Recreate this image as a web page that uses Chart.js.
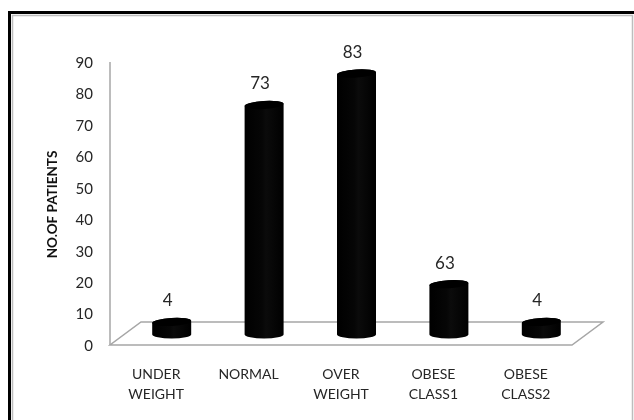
<!DOCTYPE html>
<html><head><meta charset="utf-8">
<script src="https://cdn.jsdelivr.net/npm/chart.js@4.4.1/dist/chart.umd.min.js"></script>
<style>html,body{margin:0;padding:0;background:#fff;}canvas{display:block}</style>
</head><body>
<canvas id="c" width="634" height="420"></canvas>
<script>
const categories = [['UNDER', 'WEIGHT'], ['NORMAL'], ['OVER', 'WEIGHT'], ['OBESE', 'CLASS1'], ['OBESE', 'CLASS2']];
const barValues = [4, 73, 83, 16, 4];
const dataLabels = ['4', '73', '83', '63', '4'];
const yMin = 0;
const yMax = 90;
const yStep = 10;
const yTitle = 'NO.OF PATIENTS';

const DX = 31, DY = -23;
const FONT = 'Lato, "Open Sans", sans-serif';

const deco = {
  id: 'deco',
  beforeDraw(chart) {
    const ctx = chart.ctx;
    ctx.save();
    ctx.fillStyle = '#fff';
    ctx.fillRect(0, 0, chart.width, chart.height);
    // frame
    ctx.strokeStyle = '#bdbdbd';
    ctx.lineWidth = 1.5;
    ctx.beginPath();
    ctx.moveTo(12.5, 430); ctx.lineTo(12.5, 15.5); ctx.lineTo(632.5, 15.5); ctx.lineTo(632.5, 430);
    ctx.stroke();
    ctx.fillStyle = '#000';
    ctx.fillRect(8, 11, 626, 3);
    ctx.fillRect(8, 11, 3, 409);
    // axes / floor
    const a = chart.chartArea;
    const ys = chart.scales.y;
    const y0 = ys.getPixelForValue(yMin) - 1;
    ctx.strokeStyle = '#a6a6a6';
    ctx.lineWidth = 1.5;
    ctx.beginPath();
    ctx.moveTo(a.left, ys.getPixelForValue(yMax) - 1);
    ctx.lineTo(a.left, y0);
    ctx.stroke();
    ctx.beginPath();
    ctx.moveTo(a.left, y0);
    ctx.lineTo(a.right, y0);
    ctx.lineTo(a.right + DX, y0 + DY);
    ctx.lineTo(a.left + DX, y0 + DY);
    ctx.closePath();
    ctx.stroke();
    ctx.restore();
  },
  afterDatasetsDraw(chart) {
    const ctx = chart.ctx;
    const meta = chart.getDatasetMeta(0);
    ctx.save();
    meta.data.forEach((el, i) => {
      const cx = el.x + DX / 2;
      const top = el.y + DY / 2;
      const base = el.base + DY / 2;
      const hw = el.width / 2;
      const ry = 4;
      const g = ctx.createLinearGradient(cx - hw, 0, cx + hw, 0);
      g.addColorStop(0, '#000');
      g.addColorStop(0.45, '#060606');
      g.addColorStop(0.55, '#0b0b0b');
      g.addColorStop(1, '#000');
      ctx.fillStyle = g;
      ctx.beginPath();
      ctx.moveTo(cx - hw, top);
      ctx.lineTo(cx - hw, base);
      ctx.ellipse(cx, base, hw, ry, 0, Math.PI, 0, true);
      ctx.lineTo(cx + hw, top);
      ctx.ellipse(cx, top, hw, ry, -0.06, 0, Math.PI, true);
      ctx.closePath();
      ctx.fill();
      ctx.fillStyle = '#000';
      ctx.beginPath();
      ctx.ellipse(cx, top, hw, ry, -0.06, 0, Math.PI * 2);
      ctx.fill();
      ctx.fillStyle = '#262626';
      ctx.font = '17px ' + FONT;
      ctx.textAlign = 'center';
      ctx.textBaseline = 'middle';
      ctx.fillText(dataLabels[i], cx - 4, top - 21);
    });
    ctx.restore();
  }
};

new Chart(document.getElementById('c'), {
  type: 'bar',
  data: {
    labels: categories,
    datasets: [{
      data: barValues,
      backgroundColor: 'rgba(0,0,0,0)',
      borderWidth: 0,
      categoryPercentage: 1,
      barPercentage: 0.422
    }]
  },
  options: {
    responsive: false,
    animation: false,
    devicePixelRatio: 1,
    layout: { padding: { left: 45, top: 63, right: 62, bottom: 0 } },
    plugins: { legend: { display: false }, tooltip: { enabled: false } },
    scales: {
      x: {
        grid: { display: false, drawTicks: false },
        border: { display: false },
        ticks: {
          color: '#262626',
          font: { family: FONT, size: 14, lineHeight: '20px' },
          padding: 18,
          maxRotation: 0,
          autoSkip: false
        },
        afterFit(s) { s.height = 420 - 346; }
      },
      y: {
        min: yMin, max: yMax,
        grid: { display: false, drawTicks: false },
        border: { display: false },
        ticks: {
          stepSize: yStep,
          color: '#262626',
          font: { family: FONT, size: 15 },
          padding: 17
        },
        title: {
          display: true,
          text: yTitle,
          color: '#111',
          font: { family: FONT, size: 13.5, weight: 'bold', lineHeight: '16px' },
          padding: 0
        },
        afterFit(s) { s.width = 110 - 45; }
      }
    }
  },
  plugins: [deco]
});
</script>
</body></html>
